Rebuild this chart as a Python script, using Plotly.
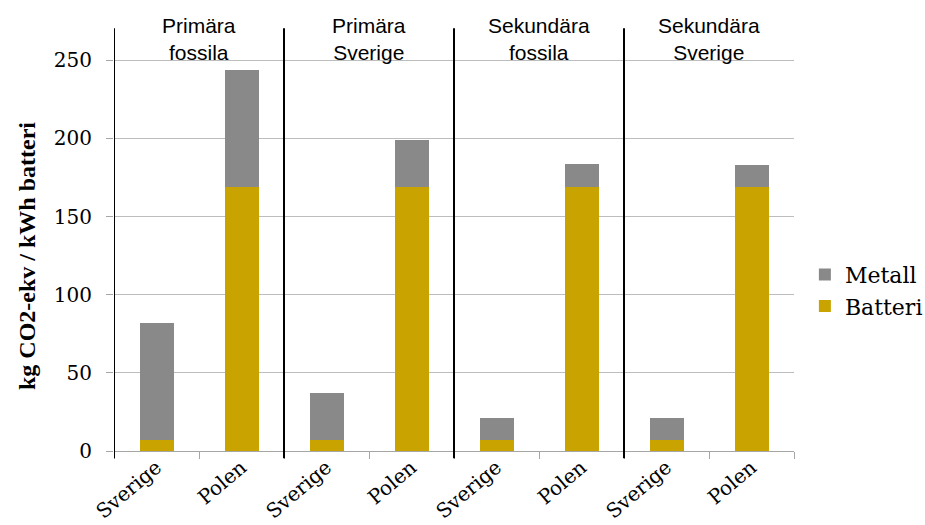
import plotly.graph_objects as go

# Scenarios (two header lines each) and countries (two bars per scenario)
scenarios = ["Primära<br>fossila", "Primära<br>Sverige",
             "Sekundära<br>fossila", "Sekundära<br>Sverige"]
countries = ["Sverige", "Polen"]

# kg CO2-ekv per kWh battery, per bar in scenario order
batteri = [7, 169, 7, 169, 7, 169, 7, 169]
metall = [75, 75, 30, 30, 14, 14.5, 14, 14]

y_ticks = [0, 50, 100, 150, 200, 250]

labels = [c for _ in scenarios for c in countries]
xpos = list(range(len(labels)))

GOLD = "#C9A300"
GREY = "#898989"
SERIF = "DejaVu Serif"
SANS = "Liberation Sans"

fig = go.Figure()
fig.add_trace(go.Bar(x=xpos, y=batteri, name="Batteri",
                     marker=dict(color=GOLD, line=dict(width=0)), width=0.4))
fig.add_trace(go.Bar(x=xpos, y=metall, name="Metall",
                     marker=dict(color=GREY, line=dict(width=0)), width=0.4))

# Scenario separators (the first one doubles as the left axis line) and headers
n_per = len(countries)
for k, head in enumerate(scenarios):
    xb = k * n_per - 0.5
    fig.add_shape(type="line", xref="x", yref="paper", x0=xb, x1=xb, y0=-0.017, y1=1.002,
                  line=dict(color="black", width=2))
    xc = k * n_per + (n_per - 1) / 2
    fig.add_annotation(x=xc, xref="x", y=0.976, yref="paper", yanchor="middle",
                       text=head, showarrow=False,
                       font=dict(family=SANS, size=21, color="black"))

# Y axis title
fig.add_annotation(x=-0.128, xref="paper", y=0.462, yref="paper", textangle=-90,
                   text="<b>kg CO2-ekv / kWh batteri</b>", showarrow=False,
                   xanchor="center", yanchor="middle",
                   font=dict(family="Liberation Serif", size=24, color="black"))

fig.update_layout(
    barmode="stack",
    width=925, height=525,
    margin=dict(l=114, r=131, t=29, b=74, autoexpand=False),
    plot_bgcolor="white", paper_bgcolor="white",
    legend=dict(x=1.016, y=0.38, xanchor="left", yanchor="middle", traceorder="reversed",
                font=dict(family=SERIF, size=22, color="black"), itemwidth=30),
    xaxis=dict(range=[-0.5, len(labels) - 0.5], tickmode="array", tickvals=xpos,
               ticktext=labels, tickangle=-40, ticks="", showgrid=False, zeroline=False,
               showline=False, automargin=False,
               tickfont=dict(family=SERIF, size=20, color="black"),
               minor=dict(tick0=0.5, dtick=1, ticks="outside", ticklen=7, tickcolor="#A6A6A6",
                          tickwidth=1, showgrid=False)),
    yaxis=dict(range=[0, 270], tickmode="array", tickvals=y_ticks, showgrid=True,
               gridcolor="#BDBDBD", gridwidth=1, zeroline=True, zerolinecolor="#A6A6A6",
               zerolinewidth=1, ticks="outside", ticklen=7, tickcolor="#A6A6A6",
               automargin=False,
               tickfont=dict(family=SERIF, size=20, color="black"), ticklabelstandoff=10),
)

fig.write_html("out.html")
